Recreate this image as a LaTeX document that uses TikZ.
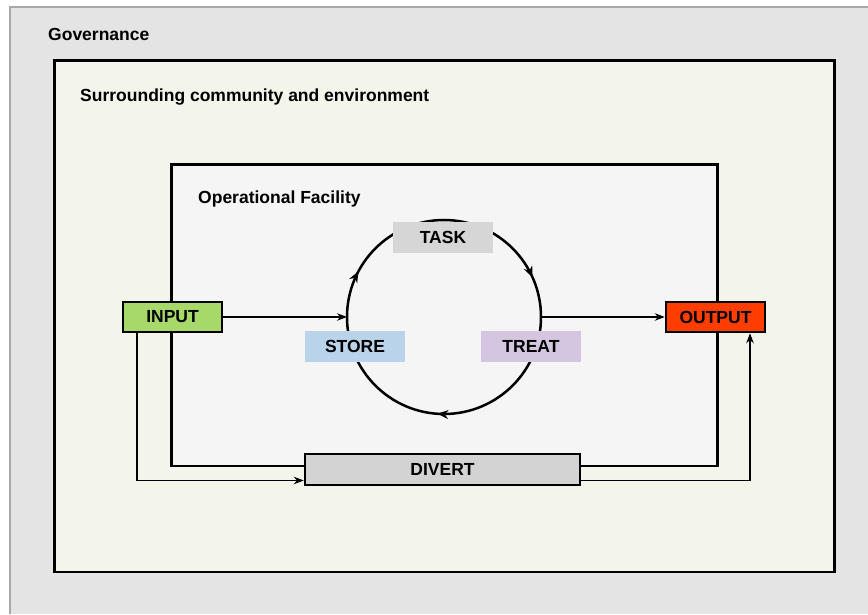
\documentclass[tikz,border=0pt]{standalone}
\usepackage{fontspec}
\setmainfont{Liberation Sans}
\usetikzlibrary{arrows.meta,decorations.markings}
\definecolor{panelgray}{HTML}{E4E4E4}
\definecolor{panelline}{HTML}{A8A8A8}
\definecolor{commfill}{HTML}{F3F5EA}
\definecolor{facfill}{HTML}{F5F5F5}
\definecolor{taskfill}{HTML}{D6D6D6}
\definecolor{storefill}{HTML}{B9D3EA}
\definecolor{treatfill}{HTML}{D4C6E0}
\definecolor{inputfill}{HTML}{A6D96A}
\definecolor{outputfill}{HTML}{FF3D00}
\definecolor{divertfill}{HTML}{D3D3D3}
\begin{document}
\begin{tikzpicture}[x=1pt,y=1pt,
  txt/.style={font=\fontsize{17.5}{20}\selectfont\bfseries},
  lbl/.style={txt, inner sep=0pt, anchor=base west},
  stagebox/.style={txt, minimum width=100pt, minimum height=31pt, inner sep=0pt},
  flowbox/.style={txt, draw=black, line width=2.5pt, minimum width=99pt, minimum height=30pt, inner sep=0pt},
  thinarrow/.style={line width=1.3pt, -{Stealth[length=10pt,width=7.5pt]}},
  thickline/.style={line width=2.5pt},
  cyclearrow/.style={decoration={markings,
     mark=at position 0.261 with {\arrow{Stealth[length=11pt,width=9pt]}},
     mark=at position 0.578 with {\arrow{Stealth[length=11pt,width=9pt]}},
     mark=at position 0.933 with {\arrow{Stealth[length=11pt,width=9pt]}}},
     postaction={decorate}}
]
\useasboundingbox (0,0) rectangle (868,614);
\fill[white] (0,0) rectangle (868,614);
% governance panel
\fill[panelgray] (10,0) rectangle (868,607);
\draw[panelline, line width=2pt] (10,0) -- (10,607) -- (868,607);
\node[lbl] (gov) at (48,573) {Governance};
% community
\node[draw=black, fill=commfill, thickline, minimum width=780pt, minimum height=511pt, inner sep=0pt, anchor=south west] (comm) at (53,41) {};
\node[lbl] (commlbl) at (80,512) {Surrounding community and environment};
% facility
\node[draw=black, fill=facfill, thickline, minimum width=546pt, minimum height=301pt, inner sep=0pt, anchor=south west] (fac) at (170,147) {};
\node[lbl] (faclbl) at (198,410) {Operational Facility};
% cycle
\coordinate (c) at (444,297);
\draw[thickline, cyclearrow] (c) ++(0:97pt) coordinate (cright) arc[start angle=0, end angle=-360, radius=97pt];
\coordinate (cleft) at (347,297);
\node[stagebox, fill=taskfill] (task) at (443,376.5) {TASK};
\node[stagebox, fill=storefill] (store) at (355,267.5) {STORE};
\node[stagebox, fill=treatfill] (treat) at (531,267.5) {TREAT};
% input / output / divert
\node[flowbox, fill=inputfill] (input) at (172.5,297) {INPUT};
\node[flowbox, fill=outputfill] (output) at (715.5,297) {OUTPUT};
\node[flowbox, fill=divertfill, minimum width=275pt, minimum height=31pt] (divert) at (442.5,144.5) {DIVERT};
% connectors
\draw[thinarrow] (input.east) -- (cleft);
\draw[thinarrow] (cright) -- (output.west);
\draw[thinarrow] (input.south -| 137,0) |- ([yshift=-11pt]divert.west);
\draw[thinarrow] ([yshift=-11pt]divert.east) -| (output.south -| 750,0);
\end{tikzpicture}
\end{document}
